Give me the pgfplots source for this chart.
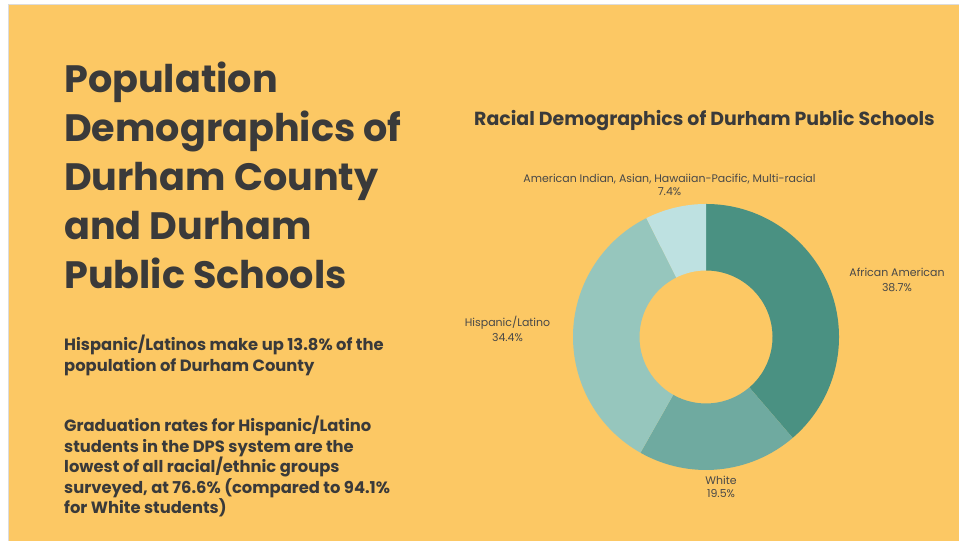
\documentclass[border=0pt]{standalone}
\usepackage{pgfplots}
\usepackage{pgfplotstable}
\pgfplotsset{compat=1.18}
\usepackage{fontspec}
\setmainfont{Poppins}

\definecolor{bgyellow}{RGB}{252,200,100}
\definecolor{edgegray}{RGB}{220,220,220}
\definecolor{txtdark}{RGB}{58,58,58}
\definecolor{txtlab}{RGB}{72,72,72}
\definecolor{cAA}{RGB}{74,145,130}
\definecolor{cWH}{RGB}{111,170,160}
\definecolor{cHL}{RGB}{150,198,189}
\definecolor{cOT}{RGB}{190,225,225}

% share of DPS students, clockwise from the top
\pgfplotstableread{
group value
AfricanAmerican 38.7
White 19.5
HispanicLatino 34.4
Other 7.4
}\slices

\newcommand\slice[3]{%
  \fill[#3] (axis cs:{cos(#1)},{sin(#1)}) arc[start angle=#1, end angle=#2, radius=133bp]
    -- (axis cs:{0.5*cos(#2)},{0.5*sin(#2)}) arc[start angle=#2, end angle=#1, radius=66.5bp] -- cycle;}

\begin{document}
\begin{tikzpicture}[x=1bp,y=1bp]
% slide background
\fill[white] (0,0) rectangle (959,541);
\fill[bgyellow] (9,0) rectangle (959,536);
\draw[edgegray, line width=1bp] (8.5,0) -- (8.5,536.5) -- (959,536.5);

% headline
\begin{scope}[every node/.style={anchor=base west, inner sep=0pt, text=txtdark, font=\fontsize{38.3}{48}\selectfont\bfseries}]
\node at (64,448) {Population};
\node at (64,399) {Demographics of};
\node at (64,350) {Durham County};
\node at (64,301) {and Durham};
\node at (64,252) {Public Schools};
\end{scope}

% side notes
\begin{scope}[every node/.style={anchor=base west, inner sep=0pt, text=txtdark, font=\fontsize{16.4}{20}\selectfont\bfseries}]
\node at (64,190) {Hispanic/Latinos make up 13.8\% of the};
\node at (64,169) {population of Durham County};
\node at (64,109.3) {Graduation rates for Hispanic/Latino};
\node at (64,88.7) {students in the DPS system are the};
\node at (64,68) {lowest of all racial/ethnic groups};
\node at (64,47.5) {surveyed, at 76.6\% (compared to 94.1\%};
\node at (64,27) {for White students)};
\end{scope}

% chart title
\node[anchor=base west, inner sep=0pt, text=txtdark, font=\fontsize{19}{22}\selectfont\bfseries] at (474,415) {Racial Demographics of Durham Public Schools};

% angles of the slice edges
\pgfplotstablegetelem{0}{value}\of\slices \let\vA\pgfplotsretval
\pgfplotstablegetelem{1}{value}\of\slices \let\vB\pgfplotsretval
\pgfplotstablegetelem{2}{value}\of\slices \let\vC\pgfplotsretval
\pgfplotstablegetelem{3}{value}\of\slices \let\vD\pgfplotsretval
\pgfmathsetmacro\aA{90-3.6*\vA}
\pgfmathsetmacro\aB{\aA-3.6*\vB}
\pgfmathsetmacro\aC{\aB-3.6*\vC}
\pgfmathsetmacro\aD{\aC-3.6*\vD}

\begin{axis}[at={(573bp,71bp)}, anchor=south west, scale only axis,
  x=133bp, y=133bp, xmin=-1, xmax=1, ymin=-1, ymax=1,
  hide axis, clip=false]
\slice{90}{\aA}{cAA}
\slice{\aA}{\aB}{cWH}
\slice{\aB}{\aC}{cHL}
\slice{\aC}{\aD}{cOT}
\end{axis}

% slice labels
\begin{scope}[every node/.style={anchor=base, inner sep=0pt, text=txtlab, font=\fontsize{11}{14}\selectfont}]
\node at (669.5,358.5) {American Indian, Asian, Hawaiian-Pacific, Multi-racial};
\node at (669.5,345) {7.4\%};
\node at (897,264) {African American};
\node at (897,249) {38.7\%};
\node at (507.5,214) {Hispanic/Latino};
\node at (507.5,199) {34.4\%};
\node at (721,56) {White};
\node at (721,43) {19.5\%};
\end{scope}

\pgfresetboundingbox
\useasboundingbox (0,0) rectangle (959,541);
\end{tikzpicture}
\end{document}
